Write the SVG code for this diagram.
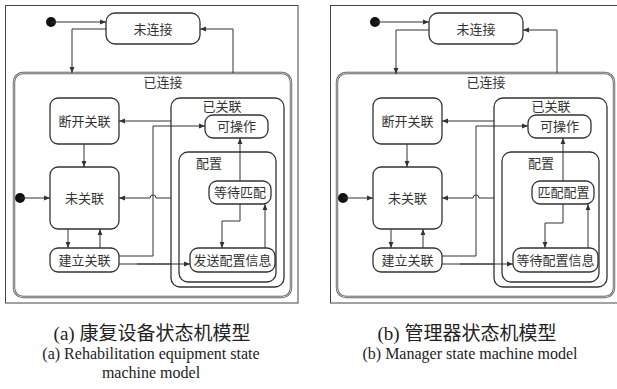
<svg xmlns="http://www.w3.org/2000/svg" width="617" height="389" viewBox="0 0 617 389">
<defs>
<marker id="ah" viewBox="0 0 6 6" refX="6" refY="3" markerWidth="6" markerHeight="6" markerUnits="userSpaceOnUse" orient="auto">
<path d="M0,0.6 L6,3 L0,5.4 Z" fill="#333"/>
</marker>
<style>
.frame{fill:none;stroke:#444;stroke-width:1}
.box{fill:#fff;stroke:#333;stroke-width:1.3}
.cont{fill:none;stroke:#333;stroke-width:1.3}
.outer{fill:none;stroke:#555;stroke-width:2.4}
.outerin{fill:none;stroke:#fff;stroke-width:0.7}
.lbl{font-family:"Noto Sans CJK SC","Noto Sans",sans-serif;font-size:13px;fill:#333;text-anchor:middle}
.ln{fill:none;stroke:#333;stroke-width:1;marker-end:url(#ah)}
.pl{fill:none;stroke:#333;stroke-width:1}
.dot{fill:#111}
.capz{font-family:"Liberation Serif","Noto Sans CJK SC",serif;font-size:19px;fill:#222;text-anchor:middle}
.cape{font-family:"Liberation Serif",serif;font-size:16px;fill:#222;text-anchor:middle}
</style>
</defs>
<rect class="frame" x="5.5" y="5.5" width="292.5" height="297.5"/>
<rect class="frame" x="330.5" y="5.5" width="290" height="297.5"/>

<g id="panel-a">
<g id="a-connected">
<rect class="outer" x="14" y="73" width="277" height="224" rx="9"/>
<rect class="outerin" x="14" y="73" width="277" height="224" rx="9"/>
<text class="lbl" x="163" y="87">已连接</text>
</g>
<g id="a-associated">
<rect class="cont" x="171" y="98" width="113" height="189" rx="9"/>
<text class="lbl" x="222" y="110.5">已关联</text>
</g>
<g id="a-config">
<rect class="cont" x="179" y="152" width="97" height="130" rx="9"/>
<text class="lbl" x="209" y="167.5">配置</text>
</g>
<g id="a-unconnected">
<rect class="box" x="106" y="13" width="94" height="31" rx="9"/>
<text class="lbl" x="153" y="33.5">未连接</text>
</g>
<g id="a-disassoc">
<rect class="box" x="50" y="98" width="69" height="46" rx="8"/>
<text class="lbl" x="84.5" y="125.5">断开关联</text>
</g>
<g id="a-unassoc">
<rect class="box" x="50" y="167" width="69" height="62" rx="8"/>
<text class="lbl" x="84.5" y="202.5">未关联</text>
</g>
<g id="a-establish">
<rect class="box" x="50" y="248" width="69" height="24" rx="8"/>
<text class="lbl" x="84.5" y="264.5">建立关联</text>
</g>
<g id="a-operable">
<rect class="box" x="205" y="115" width="63" height="23" rx="8"/>
<text class="lbl" x="236.5" y="131">可操作</text>
</g>
<g id="a-waitmatch">
<rect class="box" x="209" y="181" width="62" height="23" rx="8"/>
<text class="lbl" x="240" y="197">等待匹配</text>
</g>
<g id="a-sendcfg">
<rect class="box" x="190" y="248" width="85" height="24" rx="8"/>
<text class="lbl" x="232.5" y="264.5">发送配置信息</text>
</g>
<g id="a-start1"><circle class="dot" cx="51" cy="22" r="5"/></g>
<g id="a-start2"><circle class="dot" cx="20" cy="198" r="5"/></g>
<g id="a-connectors">
<path class="ln" d="M51,22 H106"/>
<path class="ln" d="M106,29 H72 V73"/>
<path class="ln" d="M233,73 V29 H200"/>
<path class="ln" d="M171,121 H119"/>
<path class="ln" d="M119,256 H153 V126 H205"/>
<path class="ln" d="M84,144 V167"/>
<path class="ln" d="M20,198 H50"/>
<path class="ln" d="M171,198 H156 A3,3 0 0 0 150,198 H119"/>
<path class="ln" d="M68,229 V248"/>
<path class="ln" d="M100,248 V229"/>
<path class="ln" d="M119,264 H190"/>
<path class="pl" d="M137,264 H171" stroke-width="1.8"/>
<path class="ln" d="M240,181 V138"/>
<path class="ln" d="M240,204 V221 H222 V248"/>
<path class="ln" d="M265,248 V204"/>
</g>
</g>

<g id="panel-b" transform="translate(323,0)">
<g id="b-connected">
<rect class="outer" x="14" y="73" width="277" height="224" rx="9"/>
<rect class="outerin" x="14" y="73" width="277" height="224" rx="9"/>
<text class="lbl" x="163" y="87">已连接</text>
</g>
<g id="b-associated">
<rect class="cont" x="171" y="98" width="113" height="189" rx="9"/>
<text class="lbl" x="228" y="110.5">已关联</text>
</g>
<g id="b-config">
<rect class="cont" x="179" y="152" width="97" height="130" rx="9"/>
<text class="lbl" x="218" y="167.5">配置</text>
</g>
<g id="b-unconnected">
<rect class="box" x="106" y="13" width="94" height="31" rx="9"/>
<text class="lbl" x="153" y="33.5">未连接</text>
</g>
<g id="b-disassoc">
<rect class="box" x="50" y="98" width="69" height="46" rx="8"/>
<text class="lbl" x="84.5" y="125.5">断开关联</text>
</g>
<g id="b-unassoc">
<rect class="box" x="50" y="167" width="69" height="62" rx="8"/>
<text class="lbl" x="84.5" y="202.5">未关联</text>
</g>
<g id="b-establish">
<rect class="box" x="50" y="248" width="69" height="24" rx="8"/>
<text class="lbl" x="84.5" y="264.5">建立关联</text>
</g>
<g id="b-operable">
<rect class="box" x="205" y="115" width="63" height="23" rx="8"/>
<text class="lbl" x="236.5" y="131">可操作</text>
</g>
<g id="b-matchcfg">
<rect class="box" x="209" y="181" width="62" height="23" rx="8"/>
<text class="lbl" x="240.5" y="197">匹配配置</text>
</g>
<g id="b-waitcfg">
<rect class="box" x="190" y="248" width="85" height="24" rx="8"/>
<text class="lbl" x="232.5" y="264.5">等待配置信息</text>
</g>
<g id="b-start1"><circle class="dot" cx="52" cy="22" r="5"/></g>
<g id="b-start2"><circle class="dot" cx="20" cy="198" r="5"/></g>
<g id="b-connectors">
<path class="ln" d="M52,22 H106"/>
<path class="ln" d="M106,30 H73 V74"/>
<path class="ln" d="M234,73 V30 H200"/>
<path class="ln" d="M171,121 H119"/>
<path class="ln" d="M119,256 H153 V126 H205"/>
<path class="ln" d="M84,144 V167"/>
<path class="ln" d="M20,198 H50"/>
<path class="ln" d="M171,198 H156 A3,3 0 0 0 150,198 H119"/>
<path class="ln" d="M68,229 V248"/>
<path class="ln" d="M100,248 V229"/>
<path class="ln" d="M119,264 H190"/>
<path class="pl" d="M137,264 H171" stroke-width="1.8"/>
<path class="ln" d="M240,181 V138"/>
<path class="ln" d="M240,204 V223 H222 V248"/>
<path class="ln" d="M265,248 V204"/>
</g>
</g>

<g id="captions">
<text class="capz" x="152" y="340">(a) 康复设备状态机模型</text>
<text class="cape" x="151" y="359">(a) Rehabilitation equipment state</text>
<text class="cape" x="151" y="378">machine model</text>
<text class="capz" x="467" y="340">(b) 管理器状态机模型</text>
<text class="cape" x="470" y="359">(b) Manager state machine model</text>
</g>
</svg>
